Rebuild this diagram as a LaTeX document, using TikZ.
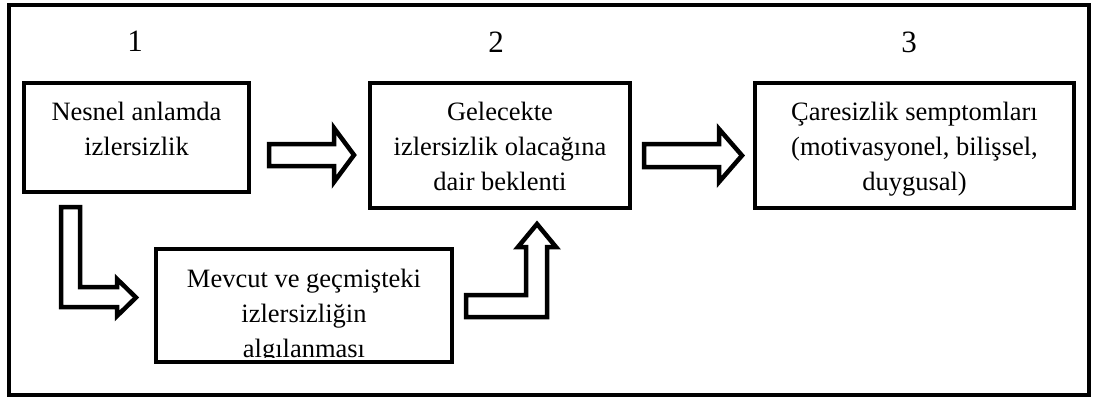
\documentclass[tikz,border=0pt]{standalone}
\usepackage{fontspec}
\setmainfont{Liberation Serif}
\begin{document}
\begin{tikzpicture}[x=1pt,y=-1pt,
  box/.style={draw,line width=4.5pt,rectangle,inner sep=0pt},
  txt/.style={anchor=base,inner sep=0pt,font=\fontsize{26.5}{35}\selectfont},
  num/.style={anchor=base,inner sep=0pt,font=\fontsize{31}{35}\selectfont},
  blockarrow/.style={draw,line width=4.5pt,fill=white}]
\useasboundingbox (0,0) rectangle (1097,400);
\draw[line width=4.5pt] (9,5) rectangle (1089,395);
% numbers
\node[num] (n1) at (135,51) {1};
\node[num] (n2) at (496,52) {2};
\node[num] (n3) at (909,52) {3};
% boxes
\node[box,minimum width=225pt,minimum height=109pt] (b1) at (136.5,137.5) {};
\node[box,minimum width=260pt,minimum height=125pt] (b2) at (500,145.5) {};
\node[box,minimum width=319pt,minimum height=125pt] (b3) at (914.5,145.5) {};
\node[box,minimum width=296pt,minimum height=113pt] (b4) at (304,305.5) {};
% texts
\node[txt] (t1) at (136.5,120) {\begin{tabular}[t]{@{}c@{}}Nesnel anlamda\\izlersizlik\end{tabular}};
\node[txt] (t2) at (500,120) {\begin{tabular}[t]{@{}c@{}}Gelecekte\\izlersizlik olacağına\\dair beklenti\end{tabular}};
\node[txt] (t3) at (914.5,120) {\begin{tabular}[t]{@{}c@{}}Çaresizlik semptomları\\(motivasyonel, bilişsel,\\duygusal)\end{tabular}};
\begin{scope}
\clip (160,252) rectangle (448,357);
\node[txt] (t4) at (304,287) {\begin{tabular}[t]{@{}c@{}}Mevcut ve geçmişteki\\izlersizliğin\\algılanması\end{tabular}};
\end{scope}
% block arrows
\draw[blockarrow] (269,144) -- (334,144) -- (334,128) -- (354,155) -- (334,182) -- (334,166) -- (269,166) -- cycle;
\draw[blockarrow] (644,144) -- (719,144) -- (719,129) -- (742,155.5) -- (719,182) -- (719,167) -- (644,167) -- cycle;
\draw[blockarrow] (61,207) -- (80,207) -- (80,287) -- (117,287) -- (117,279) -- (136,297.5) -- (117,316) -- (117,307) -- (61,307) -- cycle;
\draw[blockarrow] (466,295) -- (526,295) -- (526,247) -- (518,247) -- (537,224) -- (556,247) -- (547,247) -- (547,317) -- (466,317) -- cycle;
\end{tikzpicture}
\end{document}
